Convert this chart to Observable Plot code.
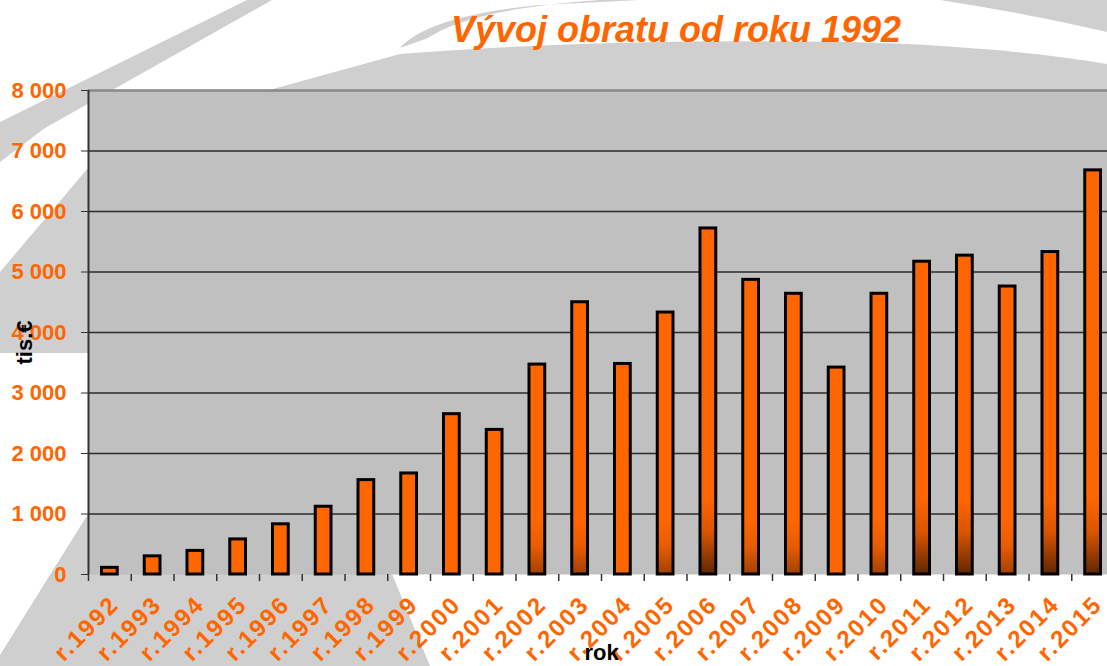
<!DOCTYPE html>
<html>
<head>
<meta charset="utf-8">
<script src="https://cdn.jsdelivr.net/npm/d3@7"></script>
<script src="https://cdn.jsdelivr.net/npm/@observablehq/plot@0.6"></script>
<style>
  html, body { margin: 0; padding: 0; background: #fff; overflow: hidden; width: 1107px; height: 666px; }
  #wrap { position: relative; width: 1107px; height: 666px; overflow: hidden; font-family: "Liberation Sans", Arial, sans-serif; }
  #bg { position: absolute; left: 0; top: 0; }
  #title { position: absolute; left: 676px; top: 12px; transform: translateX(-50%); white-space: nowrap;
           font: italic bold 36px/36px "Liberation Sans", Arial, sans-serif; color: #ff6600; }
  #chart { position: absolute; left: 0; top: 70px; }
</style>
</head>
<body>
<div id="wrap">
  <svg id="bg" width="1107" height="666">
    <g fill="#cfcfcf">
      <path d="M247,0 L272,0 L45,128 L0,162 L0,122 Z"/>
      <path d="M88,168 L0,272 L0,353 L88,353 Z"/>
      <path d="M88,514 L0,655 L0,666 L430,666 L392,574 L88,574 Z"/>
      <path d="M262,92 L400,54 Q600,38 850,42 Q1000,46 1107,64 L1107,92 Z"/>
      <path d="M940,0 L1107,0 L1107,32 Q1030,14 940,0 Z"/>
      <path d="M400,48 Q428,16 540,5 L640,0 L600,0 Q470,9 428,38 Z"/>
    </g>
  </svg>
  <div id="title">Vývoj obratu od roku 1992</div>
  <div id="chart"></div>
</div>
<script>
// ---- data ----
const years = ["r.1992","r.1993","r.1994","r.1995","r.1996","r.1997","r.1998","r.1999","r.2000","r.2001","r.2002","r.2003","r.2004","r.2005","r.2006","r.2007","r.2008","r.2009","r.2010","r.2011","r.2012","r.2013","r.2014","r.2015"];
const turnover = [110, 300, 390, 580, 830, 1120, 1560, 1670, 2650, 2390, 3470, 4500, 3480, 4330, 5720, 4870, 4640, 3420, 4640, 5170, 5270, 4760, 5330, 6680];
const yTicks = [0, 1000, 2000, 3000, 4000, 5000, 6000, 7000, 8000];
const yTitle = "tis.€";
const xTitle = "rok";

const data = years.map((y, i) => ({year: y, value: turnover[i]}));

// ---- rendering ----
const W = 1114, H = 596, ML = 88, MR = 0, MT = 20, MB = 92;
const bw = (W - ML - MR) / years.length;
const inset = 13.5;
const orange = "#ff6600";
const strongShade = new Set(["r.2006","r.2011","r.2012","r.2014","r.2015"]);
const noShade = new Set(["r.1992","r.1993","r.1994","r.1995","r.1996","r.1997","r.1998","r.1999","r.2000","r.2001","r.2004","r.2009"]);
const fmt = d => d3.format(",")(d).replace(/,/g, " ");
const barOpts = {x: "year", y: "value", stroke: "#000", strokeWidth: 3, insetLeft: inset, insetRight: inset};

const chart = Plot.plot({
  width: W, height: H,
  marginTop: MT, marginBottom: MB, marginLeft: ML, marginRight: MR,
  style: "background:transparent;max-width:none;overflow:visible;font-family:'Liberation Sans',Arial,sans-serif;",
  x: {type: "band", domain: years, padding: 0, round: false, label: null},
  y: {domain: [0, 8000], label: null},
  marks: [
    Plot.frame({fill: "#c0c0c0", stroke: null}),
    Plot.ruleY(yTicks.filter(v => v > 0 && v < 8000), {stroke: "#2b2b2b", strokeWidth: 1.5}),
    Plot.ruleY([8000], {stroke: "#888", strokeWidth: 2.5}),
    Plot.ruleX(years, {x: d => d, dx: -bw / 2, y1: 0, y2: 0, insetBottom: -7, stroke: "#333", strokeWidth: 1.5}),
    Plot.ruleX([years[0]], {x: d => d, dx: -bw / 2, y1: 8000, y2: 0, stroke: "#333", strokeWidth: 2}),
    Plot.barY(data, {...barOpts, filter: d => noShade.has(d.year), fill: orange}),
    Plot.barY(data, {...barOpts, filter: d => !noShade.has(d.year) && !strongShade.has(d.year), fill: "url(#gMild)"}),
    Plot.barY(data, {...barOpts, filter: d => strongShade.has(d.year), fill: "url(#gStrong)"}),
    Plot.axisY({ticks: yTicks, tickSize: 7, tickPadding: 15, tickFormat: fmt, fill: orange, stroke: "#333",
                fontSize: 22, fontWeight: "bold", label: null}),
    Plot.axisX({tickSize: 0, tickPadding: 26, tickRotate: -45, dx: 5, fill: orange,
                fontSize: 24, fontWeight: "bold", label: null}),
    Plot.text([yTitle], {frameAnchor: "left", dx: -64, dy: 10, rotate: -90, textAnchor: "middle", lineAnchor: "middle",
                         fontSize: 22, fontWeight: "bold", fill: "#000"}),
    Plot.text([xTitle], {frameAnchor: "bottom", dy: 78, textAnchor: "middle", lineAnchor: "middle",
                         fontSize: 22, fontWeight: "bold", fill: "#000"})
  ]
});

// wider letter spacing of the rotated category labels
chart.querySelectorAll('[aria-label="x-axis tick label"] text').forEach(t => t.style.letterSpacing = "2px");

// gradients for the bar bases
const ys = chart.scale("y");
const y0 = ys.apply(0);
const ns = "http://www.w3.org/2000/svg";
const defs = document.createElementNS(ns, "defs");
function grad(id, top, stops) {
  const g = document.createElementNS(ns, "linearGradient");
  g.setAttribute("id", id);
  g.setAttribute("gradientUnits", "userSpaceOnUse");
  g.setAttribute("x1", 0); g.setAttribute("x2", 0);
  g.setAttribute("y1", y0 - top); g.setAttribute("y2", y0);
  for (const [o, c] of stops) {
    const s = document.createElementNS(ns, "stop");
    s.setAttribute("offset", o); s.setAttribute("stop-color", c);
    g.appendChild(s);
  }
  defs.appendChild(g);
}
grad("gMild", 55, [[0, orange], [0.5, "#e85c00"], [1, "#a04000"]]);
grad("gStrong", 75, [[0, orange], [0.45, "#d85400"], [1, "#5e2600"]]);
chart.insertBefore(defs, chart.firstChild);

document.getElementById("chart").appendChild(chart);
</script>
</body>
</html>
